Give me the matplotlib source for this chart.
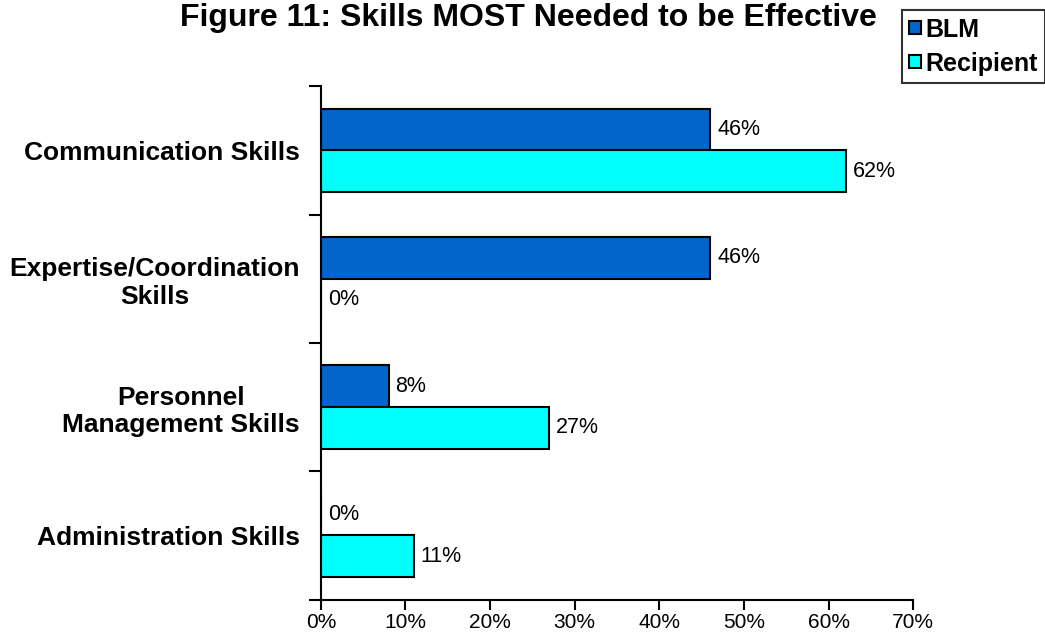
import numpy as np
import matplotlib.pyplot as plt
from matplotlib.ticker import FixedLocator, PercentFormatter

plt.rcParams['font.family'] = ['Liberation Sans', 'DejaVu Sans']

# Beceri kategorileri (yukaridan asagiya)
categories = ['Communication Skills', 'Expertise/Coordination\nSkills',
              'Personnel\nManagement Skills', 'Administration Skills']
blm = [46, 46, 8, 0]
recipient = [62, 0, 27, 11]

fig = plt.figure(figsize=(10.45, 6.34), dpi=100)
ax = fig.add_axes([0.307, 0.0544, 0.567, 0.8096])

n = len(categories)
y = np.arange(n)
h = 0.324

bars1 = ax.barh(y - h / 2, blm, h, color='#0066CC', edgecolor='black', linewidth=1.5, label='BLM')
bars2 = ax.barh(y + h / 2, recipient, h, color='#00FFFF', edgecolor='black', linewidth=1.5, label='Recipient')

# Degerleri cubuklarin sagina yaz
for bars in (bars1, bars2):
    for rect in bars:
        w = rect.get_width()
        ax.annotate(f'{w:.0f}%', xy=(w, rect.get_y() + rect.get_height() / 2),
                    xytext=(5, 0), textcoords='offset points',
                    ha='left', va='center', fontsize=15.5)

ax.set_xlim(0, 70)
ax.set_ylim(n - 0.5, -0.5)
ax.set_xticks(np.arange(0, 71, 10))
ax.xaxis.set_major_formatter(PercentFormatter(decimals=0))

ax.set_yticks(y)
ax.set_yticklabels(categories, fontsize=19, fontweight='bold', multialignment='center')
ax.tick_params(axis='y', which='major', length=0, pad=15)
ax.yaxis.set_minor_locator(FixedLocator(np.arange(-0.5, n, 1.0)))
ax.tick_params(axis='y', which='minor', length=9, width=1.5, direction='out')
ax.tick_params(axis='x', length=7, width=1.5, direction='out', labelsize=15, pad=2.5)

for s in ('top', 'right'):
    ax.spines[s].set_visible(False)
for s in ('left', 'bottom'):
    ax.spines[s].set_linewidth(1.5)

fig.text(0.506, 0.972, 'Figure 11: Skills MOST Needed to be Effective',
         ha='center', va='center', fontsize=23, fontweight='bold')

leg = fig.legend(loc='upper left', bbox_to_anchor=(0.863, 0.984),
                 prop={'weight': 'bold', 'size': 18}, frameon=True, fancybox=False,
                 handlelength=0.45, handleheight=0.45, handletextpad=0.2,
                 borderpad=0.3, labelspacing=0.4, borderaxespad=0)
leg.get_frame().set_edgecolor('black')
leg.get_frame().set_linewidth(1.5)

fig.savefig('out.png', dpi=100)
